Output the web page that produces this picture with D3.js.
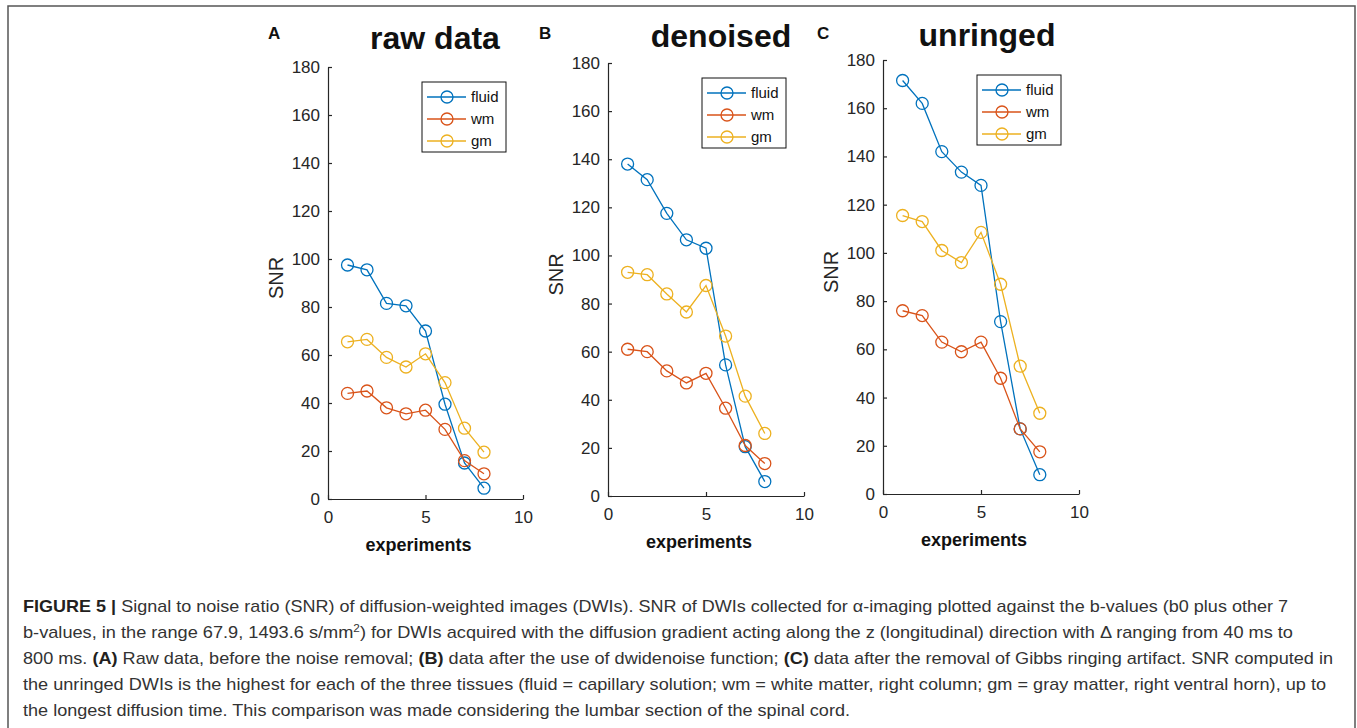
<!DOCTYPE html>
<html>
<head>
<meta charset="utf-8">
<script src="https://cdn.jsdelivr.net/npm/d3@7"></script>
<style>
  body { margin: 0; background: #fff; }
  svg { display: block; }
</style>
</head>
<body>
<div id="figure"></div>
<script>
// 1: DATA
const experiments = [1, 2, 3, 4, 5, 6, 7, 8];
const seriesNames = ["fluid", "wm", "gm"];
const seriesColors = ["#0072BD", "#D95319", "#EDB120"];
const xTicks = [0, 5, 10];
const yTicks = [0, 20, 40, 60, 80, 100, 120, 140, 160, 180];

// raw data
const rawFluid = [97.5, 95.5, 81.5, 80.5, 70, 39.5, 15, 4.5];
const rawWm    = [44, 45, 38, 35.5, 37, 29, 16, 10.5];
const rawGm    = [65.5, 66.5, 59, 55, 60.5, 48.5, 29.5, 19.5];
// denoised
const denFluid = [138, 131.5, 117.5, 106.5, 103, 54.5, 20.5, 6];
const denWm    = [61, 60, 52, 47, 51, 36.5, 21, 13.5];
const denGm    = [93, 92, 84, 76.5, 87.5, 66.5, 41.5, 26];
// unringed
const unrFluid = [171.5, 162, 142, 133.5, 128, 71.5, 27, 8];
const unrWm    = [76, 74, 63, 59, 63, 48, 27, 17.5];
const unrGm    = [115.5, 113, 101, 96, 108.5, 87, 53, 33.5];

const panelLetters = ["A", "B", "C"];
const panelTitles = ["raw data", "denoised", "unringed"];
const panelSeries = [
    [rawFluid, rawWm, rawGm],
    [denFluid, denWm, denGm],
    [unrFluid, unrWm, unrGm]
];

const captionLines = [
    [["FIGURE 5 | ", true], ["Signal to noise ratio (SNR) of diffusion-weighted images (DWIs). SNR of DWIs collected for \u03b1-imaging plotted against the b-values (b0 plus other 7", false]],
    [["b-values, in the range 67.9, 1493.6 s/mm", false], ["2", false, "sup"], [") for DWIs acquired with the diffusion gradient acting along the z (longitudinal) direction with \u0394 ranging from 40 ms to", false]],
    [["800 ms. ", false], ["(A)", true], [" Raw data, before the noise removal; ", false], ["(B)", true], [" data after the use of dwidenoise function; ", false], ["(C)", true], [" data after the removal of Gibbs ringing artifact. SNR computed in", false]],
    [["the unringed DWIs is the highest for each of the three tissues (fluid = capillary solution; wm = white matter, right column; gm = gray matter, right ventral horn), up to", false]],
    [["the longest diffusion time. This comparison was made considering the lumbar section of the spinal cord.", false]]
];

// 2: LAYOUT
const W = 1357, H = 728;
const panels = [
    { left: 328, right: 523, top: 67, bottom: 499, letterX: 268, titleX: 435, titleY: 49 },
    { left: 608, right: 804, top: 63, bottom: 496, letterX: 539, titleX: 721, titleY: 47 },
    { left: 883, right: 1079, top: 60, bottom: 494, letterX: 817, titleX: 987, titleY: 46 }
];
const captionWidths = [1265, 1270, 1310, 1303, 827];
const chartFont = "'Liberation Sans', Arial, sans-serif";
const axisColor = "#262626";

const svg = d3.select("#figure")
    .append("svg")
    .attr("width", W)
    .attr("height", H);

// outer frame
svg.append("rect")
    .attr("x", 8)
    .attr("y", 6)
    .attr("width", 1347)
    .attr("height", 760)
    .attr("fill", "none")
    .attr("stroke", "#555")
    .attr("stroke-width", 1.5);

// 3: PANELS
panels.forEach((p, pi) => {
    const g = svg.append("g");

    const xScale = d3.scaleLinear().domain([0, 10]).range([p.left, p.right]);
    const yScale = d3.scaleLinear().domain([0, 180]).range([p.bottom, p.top]);

    // axes (MATLAB style: ticks pointing inward, no box)
    const xAxis = g.append("g")
        .attr("transform", `translate(0,${p.bottom})`)
        .call(d3.axisBottom(xScale)
            .tickValues(xTicks)
            .tickSizeInner(-4)
            .tickSizeOuter(0)
            .tickPadding(12));
    const yAxis = g.append("g")
        .attr("transform", `translate(${p.left},0)`)
        .call(d3.axisLeft(yScale)
            .tickValues(yTicks)
            .tickSizeInner(-4)
            .tickSizeOuter(0)
            .tickPadding(8));
    [xAxis, yAxis].forEach(ax => {
        ax.selectAll("path, line").attr("stroke", axisColor).attr("stroke-width", 1.2);
        ax.selectAll("text")
            .attr("fill", axisColor)
            .style("font-family", chartFont)
            .style("font-size", "17px");
    });

    // lines and circle markers
    const line = d3.line()
        .x((d, i) => xScale(experiments[i]))
        .y(d => yScale(d));
    panelSeries[pi].forEach((values, si) => {
        g.append("path")
            .datum(values)
            .attr("d", line)
            .attr("fill", "none")
            .attr("stroke", seriesColors[si])
            .attr("stroke-width", 1.3);
        g.selectAll(null)
            .data(values)
            .enter()
            .append("circle")
            .attr("cx", (d, i) => xScale(experiments[i]))
            .attr("cy", d => yScale(d))
            .attr("r", 6)
            .attr("fill", "none")
            .attr("stroke", seriesColors[si])
            .attr("stroke-width", 1.3);
    });

    // axis labels
    g.append("text")
        .text("experiments")
        .attr("x", (p.left + p.right) / 2 - 7)
        .attr("y", p.bottom + 52)
        .attr("text-anchor", "middle")
        .style("font-family", chartFont)
        .style("font-weight", "bold")
        .style("font-size", "18px")
        .attr("fill", "#111");
    g.append("text")
        .text("SNR")
        .attr("transform", `translate(${p.left - 45},${(p.top + p.bottom) / 2 - 5}) rotate(-90)`)
        .attr("text-anchor", "middle")
        .style("font-family", chartFont)
        .style("font-size", "20px")
        .attr("fill", axisColor);

    // title and panel letter
    g.append("text")
        .text(panelTitles[pi])
        .attr("x", p.titleX)
        .attr("y", p.titleY)
        .attr("text-anchor", "middle")
        .style("font-family", chartFont)
        .style("font-weight", "bold")
        .style("font-size", "32px")
        .attr("fill", "#111");
    g.append("text")
        .text(panelLetters[pi])
        .attr("x", p.letterX)
        .attr("y", 39)
        .style("font-family", chartFont)
        .style("font-weight", "bold")
        .style("font-size", "17px")
        .attr("fill", "#111");

    // legend
    const legend = g.append("g")
        .attr("transform", `translate(${p.left + 94},${p.top + 15})`);
    legend.append("rect")
        .attr("width", 84)
        .attr("height", 70)
        .attr("fill", "#fff")
        .attr("stroke", "#111")
        .attr("stroke-width", 1);
    const item = legend.selectAll(".legend-item")
        .data(seriesNames)
        .enter()
        .append("g")
        .attr("class", "legend-item")
        .attr("transform", (d, i) => `translate(0,${15 + i * 22})`);
    item.append("line")
        .attr("x1", 5)
        .attr("x2", 44)
        .attr("stroke", (d, i) => seriesColors[i])
        .attr("stroke-width", 1.3);
    item.append("circle")
        .attr("cx", 25)
        .attr("r", 6)
        .attr("fill", "none")
        .attr("stroke", (d, i) => seriesColors[i])
        .attr("stroke-width", 1.3);
    item.append("text")
        .text(d => d)
        .attr("x", 49)
        .attr("y", 5)
        .style("font-family", chartFont)
        .style("font-size", "15px")
        .attr("fill", "#111");
});

// 4: CAPTION
captionLines.forEach((parts, li) => {
    const t = svg.append("text")
        .attr("x", 23)
        .attr("y", 612 + li * 26)
        .attr("textLength", captionWidths[li])
        .attr("lengthAdjust", "spacingAndGlyphs")
        .style("font-family", "'Liberation Sans Narrow', 'Liberation Sans', Arial, sans-serif")
        .style("font-size", "17px")
        .attr("fill", "#333");
    parts.forEach(([str, bold, kind]) => {
        const span = t.append("tspan").text(str);
        if (bold) span.style("font-weight", "bold").attr("fill", "#231f20");
        if (kind === "sup") span.attr("dy", -6).style("font-size", "11px");
        else if (li === 1 && str.startsWith(")")) span.attr("dy", 6);
    });
});
</script>
</body>
</html>
